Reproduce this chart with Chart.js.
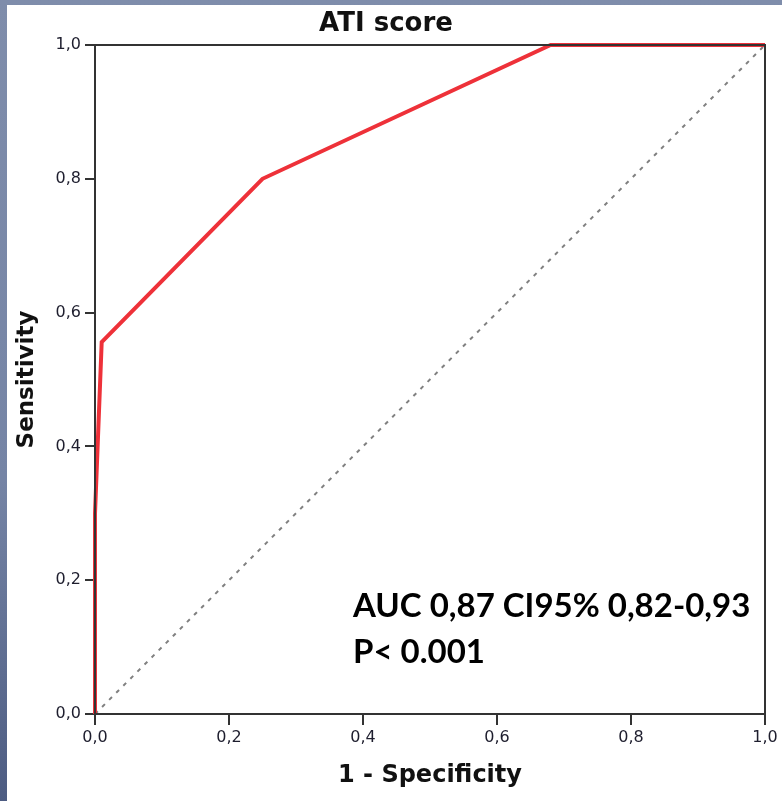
<!DOCTYPE html>
<html>
<head>
<meta charset="utf-8">
<script src="https://cdn.jsdelivr.net/npm/chart.js@4.4.0/dist/chart.umd.min.js"></script>
<style>
  html, body { margin: 0; padding: 0; }
  body {
    width: 782px; height: 801px; overflow: hidden;
    background: linear-gradient(to bottom, #7f8dab 0%, #7584a5 60%, #4d5c82 100%);
    position: relative;
  }
  #wrap { position: absolute; left: 7px; top: 5px; width: 775px; height: 796px; background: #fff; }
</style>
</head>
<body>
<div id="wrap"><canvas id="roc" width="775" height="796"></canvas></div>
<script>
// ROC curve points (1 - specificity, sensitivity)
const fpr = [0, 0, 0.01, 0.25, 0.68, 1.0];
const tpr = [0, 0.3, 0.556, 0.8, 1.0, 1.0];

// reference diagonal
const refX = [0, 1];
const refY = [0, 1];

const tickValues = [0, 0.2, 0.4, 0.6, 0.8, 1.0];
const tickLabels = ['0,0', '0,2', '0,4', '0,6', '0,8', '1,0'];

const annotationLines = ['AUC 0,87 CI95% 0,82-0,93', 'P< 0.001'];

const toPoints = (xs, ys) => xs.map((x, i) => ({ x: x, y: ys[i] }));
const tickText = v => {
    const i = tickValues.findIndex(t => Math.abs(t - v) < 1e-6);
    return i >= 0 ? tickLabels[i] : '';
};

// frame on top of the curve, plus the AUC note
const frame = {
    id: 'frame',
    afterDatasetsDraw(chart) {
        const { ctx, chartArea: a, scales } = chart;
        ctx.save();
        ctx.strokeStyle = '#333';
        ctx.lineWidth = 2;
        ctx.strokeRect(a.left, a.top, a.right - a.left, a.bottom - a.top);

        ctx.fillStyle = '#000';
        ctx.font = 'bold 33px Lato';
        ctx.textBaseline = 'alphabetic';
        const x = scales.x.getPixelForValue(0.385);
        ctx.fillText(annotationLines[0], x, scales.y.getPixelForValue(0.145));
        ctx.fillText(annotationLines[1], x, scales.y.getPixelForValue(0.076));
        ctx.restore();
    }
};

const axisTick = { family: 'DejaVu Sans', size: 16 };

new Chart(document.getElementById('roc'), {
    type: 'scatter',
    data: {
        datasets: [
            {
                label: 'ATI score',
                data: toPoints(fpr, tpr),
                showLine: true,
                borderColor: '#ee3139',
                borderWidth: 4,
                pointRadius: 0,
                tension: 0,
                clip: false,
                order: 1
            },
            {
                label: 'Reference',
                data: toPoints(refX, refY),
                showLine: true,
                borderColor: '#808080',
                borderWidth: 2,
                borderDash: [4, 6],
                pointRadius: 0,
                order: 2
            }
        ]
    },
    options: {
        responsive: false,
        animation: false,
        devicePixelRatio: 1,
        layout: { padding: { left: 0, right: 17, top: 0, bottom: 0 } },
        plugins: {
            legend: { display: false },
            tooltip: { enabled: false },
            title: {
                display: true,
                text: 'ATI score',
                color: '#111',
                font: { family: 'DejaVu Sans', size: 26, weight: 'bold' },
                padding: { top: 4, bottom: 4.8 }
            }
        },
        scales: {
            x: {
                type: 'linear',
                min: 0,
                max: 1,
                afterBuildTicks: s => { s.ticks = tickValues.map(v => ({ value: v })); },
                afterFit: s => { s.height = 87; },
                ticks: { callback: tickText, color: '#1e1e2e', font: axisTick, padding: 3, maxRotation: 0 },
                grid: { drawOnChartArea: false, drawTicks: true, tickLength: 11, color: '#333', lineWidth: 2 },
                border: { display: false },
                title: { display: true, text: '1 - Specificity', color: '#111', font: { family: 'DejaVu Sans', size: 24, weight: 'bold' }, padding: { top: 0, bottom: 11 } }
            },
            y: {
                type: 'linear',
                min: 0,
                max: 1,
                afterBuildTicks: s => { s.ticks = tickValues.map(v => ({ value: v })); },
                afterFit: s => { s.width = 88; },
                ticks: { callback: tickText, color: '#1e1e2e', font: axisTick, padding: 4 },
                grid: { drawOnChartArea: false, drawTicks: true, tickLength: 10, color: '#333', lineWidth: 2 },
                border: { display: false },
                title: { display: true, text: 'Sensitivity', color: '#111', font: { family: 'DejaVu Sans', size: 23, weight: 'bold' }, padding: { top: 6, bottom: 0 } }
            }
        }
    },
    plugins: [frame]
});
</script>
</body>
</html>
